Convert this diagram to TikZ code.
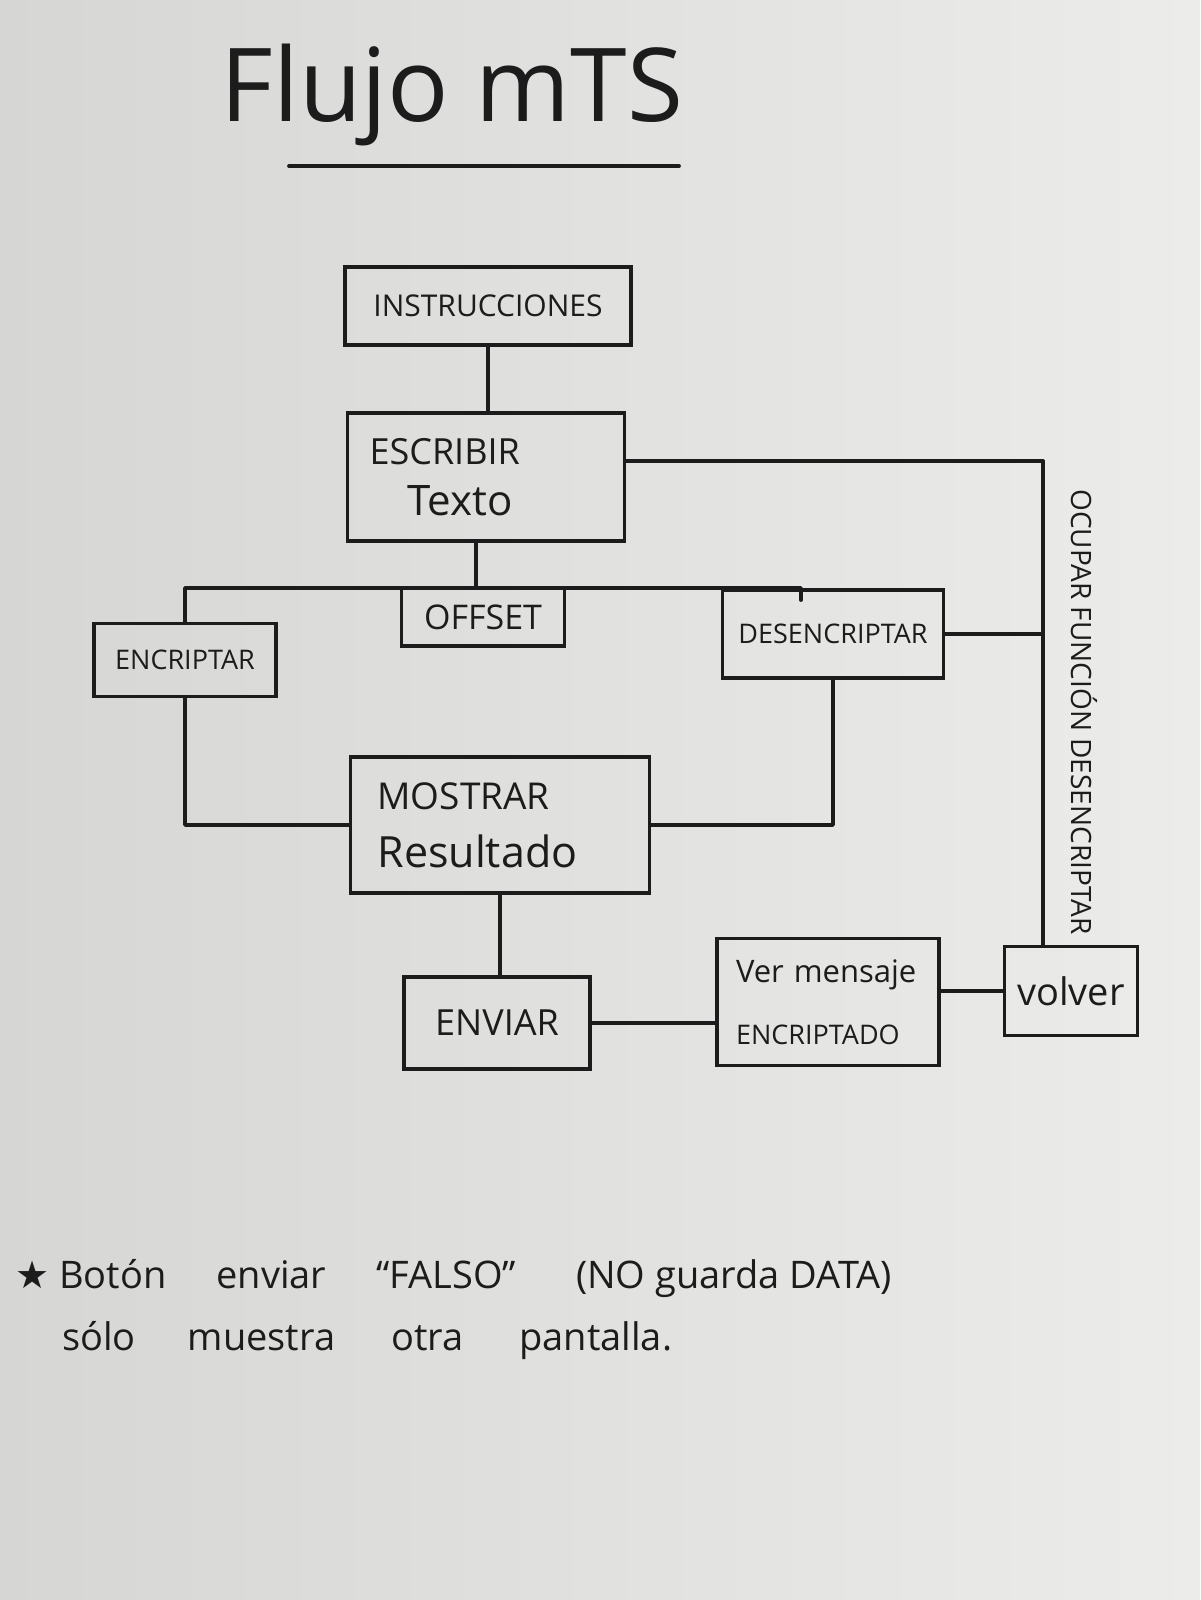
\documentclass[tikz,border=0pt]{standalone}
\usepackage{fontspec}
\setmainfont{Open Sans}
\newfontfamily\symfont{DejaVu Sans}
\definecolor{ink}{RGB}{28,28,28}
\definecolor{paperL}{RGB}{214,214,212}
\definecolor{paperR}{RGB}{236,236,234}
\tikzset{
  box/.style={draw=ink, line width=3.8pt, inner sep=0pt, text=ink},
  wire/.style={draw=ink, line width=3.8pt, line cap=round, line join=round},
  lbl/.style={text=ink, inner sep=0pt}
}
\newcommand{\fs}[1]{\fontsize{#1}{#1}\selectfont}
\begin{document}
\begin{tikzpicture}[x=1pt,y=-1pt]
\useasboundingbox (0,0) rectangle (1200,1600);
\shade[left color=paperL, right color=paperR] (0,0) rectangle (1200,1600);

% title
\node[lbl] (title) at (452,95) {\fs{102}Flujo mTS};
\coordinate (ul1) at (289,166);
\coordinate (ul2) at (679,166);
\draw[wire] (ul1) -- (ul2);

% boxes
\node[box, minimum width=286pt, minimum height=78pt] (ins) at (488,306) {\fs{30}INSTRUCCIONES};
\node[box, minimum width=277pt, minimum height=128pt, text width=233pt, align=left] (esc) at (486,477) {\fs{36}ESCRIBIR\\[20pt]\hspace*{38pt}\fs{42}Texto};
\node[box, minimum width=163pt, minimum height=58pt] (off) at (483,617) {\fs{34}OFFSET};
\node[box, minimum width=182pt, minimum height=73pt] (enc) at (185,660) {\fs{27}ENCRIPTAR};
\node[box, minimum width=221pt, minimum height=88pt] (des) at (833,634) {\fs{27}DESENCRIPTAR};
\node[box, minimum width=299pt, minimum height=136pt, text width=245pt, align=left] (mos) at (500,825) {\fs{37}MOSTRAR\\[24pt]\fs{43}Resultado};
\node[box, minimum width=222pt, minimum height=127pt, text width=184pt, align=left] (ver) at (828,1002) {\fs{31}Ver\hspace{10pt}mensaje\\[34pt]\fs{27}ENCRIPTADO};
\node[box, minimum width=186pt, minimum height=92pt] (env) at (497,1023) {\fs{36}ENVIAR};
\node[box, minimum width=133pt, minimum height=89pt] (vol) at (1071,991) {\fs{38}volver};

% right-hand side line and label
\coordinate (r1) at (1043,461);
\draw[wire] (esc.east |- r1) -- (r1) -- (r1 |- vol.north);
\draw[wire] (des.east) -- (des.east -| r1);
\node[lbl, rotate=-90] (side) at (1084,712) {\fs{28}OCUPAR FUNCIÓN DESENCRIPTAR};

% connectors
\draw[wire] (ins.south) -- (ins.south |- esc.north);
\coordinate (bj) at (476,588);
\coordinate (bt) at (801,588);
\coordinate (bt2) at (801,600);
\draw[wire] (esc.south -| bj) -- (bj) -- (bt) -- (bt2);
\draw[wire] (bj) -- (bj -| enc.north) -- (enc.north);
\draw[wire] (enc.south) -- (enc.south |- mos.west) -- (mos.west);
\draw[wire] (mos.east) -- (mos.east -| des.south) -- (des.south);
\draw[wire] (mos.south) -- (mos.south |- env.north);
\draw[wire] (env.east) -- (ver.west |- env.east);
\draw[wire] (ver.east |- vol.west) -- (vol.west);

% note
\node[lbl, anchor=west] (note1) at (15,1278) {\fs{38}{\symfont ★}\ Botón\hspace{50pt}enviar\hspace{50pt}“FALSO”\hspace{60pt}(NO guarda DATA)};
\node[lbl, anchor=west] (note2) at (62,1340) {\fs{38}sólo\hspace{52pt}muestra\hspace{56pt}otra\hspace{56pt}pantalla.};
\end{tikzpicture}
\end{document}
